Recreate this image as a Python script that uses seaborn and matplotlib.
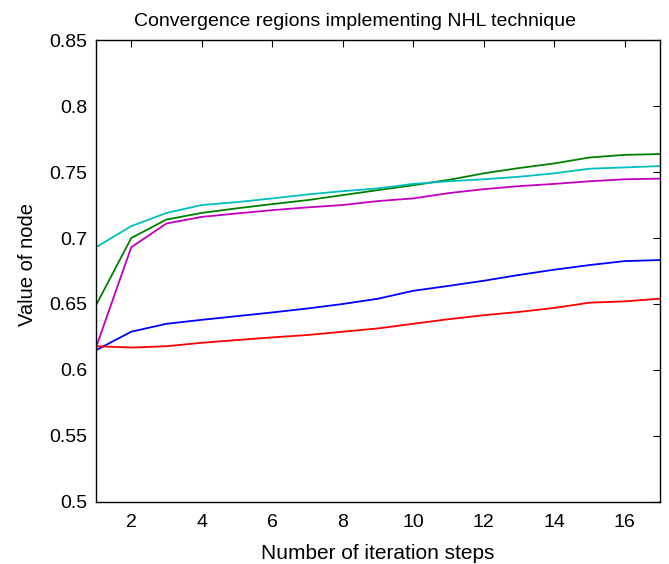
import numpy as np
import pandas as pd
import seaborn as sns
import matplotlib.pyplot as plt
from matplotlib.ticker import FormatStrFormatter

# values
steps = list(range(1, 18))
green = [0.649, 0.700, 0.714, 0.719, 0.7225, 0.7257, 0.7287, 0.7325, 0.7363, 0.740,
         0.744, 0.749, 0.753, 0.7565, 0.761, 0.763, 0.7636]
cyan = [0.693, 0.709, 0.719, 0.725, 0.7272, 0.730, 0.733, 0.7355, 0.7376, 0.741,
        0.743, 0.7445, 0.7464, 0.749, 0.7525, 0.7535, 0.7545]
magenta = [0.617, 0.693, 0.711, 0.716, 0.7186, 0.7211, 0.7232, 0.725, 0.728, 0.730,
           0.734, 0.737, 0.7393, 0.741, 0.743, 0.7445, 0.745]
blue = [0.615, 0.629, 0.635, 0.638, 0.6408, 0.6436, 0.6466, 0.650, 0.654, 0.660,
        0.6637, 0.6676, 0.672, 0.676, 0.6795, 0.6825, 0.6833]
red = [0.618, 0.617, 0.618, 0.6206, 0.6227, 0.6247, 0.6265, 0.629, 0.6315, 0.635,
       0.6385, 0.6415, 0.644, 0.647, 0.651, 0.652, 0.654]

series = {"g": green, "c": cyan, "m": magenta, "b": blue, "r": red}
colors = {"g": (0, 0.5, 0), "c": (0, 0.75, 0.75), "m": (0.75, 0, 0.75),
          "b": (0, 0, 1), "r": (1, 0, 0)}

df = pd.DataFrame([(s, x, v) for s, vals in series.items() for x, v in zip(steps, vals)],
                  columns=["series", "step", "value"])

sns.set_style("white", {"xtick.direction": "in", "ytick.direction": "in"})
plt.rcParams["font.family"] = ["Liberation Sans", "DejaVu Sans"]

fig = plt.figure(figsize=(6.69, 5.64), dpi=100)
ax = fig.add_axes([0.1435, 0.11, 0.843, 0.819])

sns.lineplot(data=df, x="step", y="value", hue="series", palette=colors,
             linewidth=1.3, legend=False, ax=ax)

ax.set_xlim(1, 17)
ax.set_ylim(0.5, 0.85)
ax.set_xticks(range(2, 17, 2))
ax.set_yticks(np.arange(0.5, 0.851, 0.05))
ax.yaxis.set_major_formatter(FormatStrFormatter("%g"))
ax.tick_params(axis="both", labelsize=14, length=5, width=0.8, color="black",
               top=True, right=True, labelcolor="black")
ax.tick_params(axis="x", pad=9)
ax.tick_params(axis="y", pad=6)
for sp in ax.spines.values():
    sp.set_color("black")
    sp.set_linewidth(1.0)

ax.set_xlabel("Number of iteration steps", fontsize=15, labelpad=9, color="black")
ax.set_ylabel("Value of node", fontsize=14.5, labelpad=9, color="black")
ax.yaxis.label.set_y(0.513)
ax.set_title("Convergence regions implementing NHL technique", fontsize=14,
             x=0.459, pad=10, color="black")

fig.savefig("out.png", dpi=100)
